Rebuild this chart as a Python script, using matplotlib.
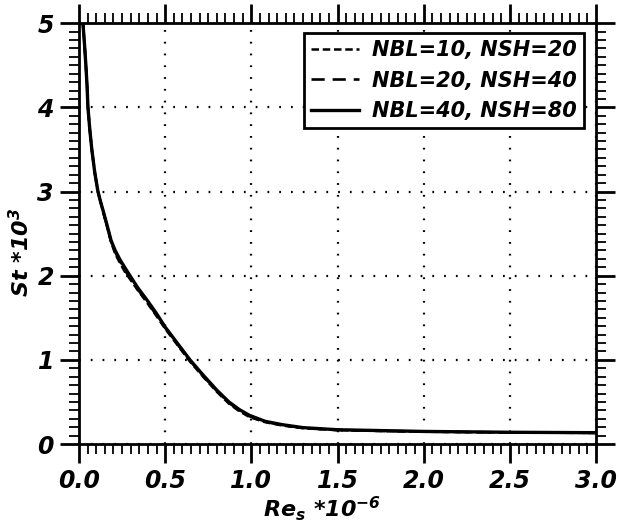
import numpy as np
import matplotlib.pyplot as plt
from matplotlib.ticker import MultipleLocator

plt.rcParams['mathtext.fontset'] = 'custom'
plt.rcParams['mathtext.rm'] = 'DejaVu Sans:bold:italic'
plt.rcParams['mathtext.it'] = 'DejaVu Sans:bold:italic'
plt.rcParams['mathtext.default'] = 'rm'

# Stanton number vs Reynolds number, three grid resolutions
re_fine = [0.023, 0.032, 0.04, 0.047, 0.052, 0.063, 0.075, 0.092, 0.11, 0.125, 0.139,
           0.163, 0.186, 0.21, 0.238, 0.265, 0.296, 0.34, 0.395, 0.45, 0.5, 0.57,
           0.644, 0.72, 0.80, 0.87, 0.93, 0.99, 1.08, 1.18, 1.3, 1.5, 1.75, 2.0,
           2.5, 3.0]
st_fine = [5.0, 4.75, 4.5, 4.25, 4.0, 3.73, 3.49, 3.22, 3.0, 2.88, 2.78,
           2.6, 2.42, 2.3, 2.19, 2.1, 2.0, 1.86, 1.71, 1.55, 1.39, 1.2,
           1.0, 0.82, 0.64, 0.5, 0.41, 0.34, 0.27, 0.23, 0.195, 0.17, 0.16, 0.15,
           0.14, 0.135]

re_mid = [0.023, 0.032, 0.04, 0.047, 0.052, 0.063, 0.075, 0.092, 0.11, 0.125, 0.139,
          0.163, 0.186, 0.21, 0.238, 0.265, 0.296, 0.34, 0.395, 0.45, 0.5, 0.57,
          0.644, 0.72, 0.80, 0.87, 0.93, 0.99, 1.08, 1.18, 1.3, 1.5, 1.75, 2.0,
          2.5, 3.0]
st_mid = [5.0, 4.75, 4.5, 4.25, 4.0, 3.73, 3.49, 3.22, 3.0, 2.88, 2.77,
          2.59, 2.41, 2.28, 2.17, 2.07, 1.97, 1.84, 1.69, 1.53, 1.38, 1.19,
          0.99, 0.81, 0.63, 0.49, 0.40, 0.33, 0.265, 0.225, 0.19, 0.167, 0.157, 0.148,
          0.138, 0.133]

re_coarse = [0.023, 0.032, 0.04, 0.047, 0.052, 0.063, 0.075, 0.092, 0.11, 0.125, 0.139,
             0.163, 0.186, 0.21, 0.238, 0.265, 0.296, 0.34, 0.395, 0.45, 0.5, 0.57,
             0.644, 0.72, 0.80, 0.87, 0.93, 0.99, 1.08, 1.18, 1.3, 1.5, 1.75, 2.0,
             2.5, 3.0]
st_coarse = [5.0, 4.75, 4.5, 4.25, 4.0, 3.73, 3.49, 3.22, 3.0, 2.88, 2.77,
             2.58, 2.40, 2.26, 2.15, 2.05, 1.96, 1.83, 1.68, 1.52, 1.37, 1.18,
             0.98, 0.80, 0.62, 0.48, 0.39, 0.32, 0.26, 0.22, 0.188, 0.165, 0.155, 0.146,
             0.137, 0.132]

labels = ["NBL=10, NSH=20", "NBL=20, NSH=40", "NBL=40, NSH=80"]

font = dict(family="DejaVu Sans", weight="bold", style="italic")

fig = plt.figure(figsize=(6.19, 5.28), dpi=100)
ax = fig.add_axes([0.1276, 0.159, 0.8354, 0.797])

ax.plot(re_coarse, st_coarse, color="black", lw=1.8, ls=(0, (3, 1.5)), label=labels[0])
ax.plot(re_mid, st_mid, color="black", lw=1.9, ls=(0, (5, 3)), label=labels[1])
ax.plot(re_fine, st_fine, color="black", lw=2.4, ls="-", label=labels[2])

ax.set_xlim(0, 3.0)
ax.set_ylim(0, 5)
ax.xaxis.set_major_locator(MultipleLocator(0.5))
ax.xaxis.set_minor_locator(MultipleLocator(0.05))
ax.yaxis.set_major_locator(MultipleLocator(1))
ax.yaxis.set_minor_locator(MultipleLocator(0.1))
ax.xaxis.set_major_formatter(plt.FuncFormatter(lambda v, p: f"{v:.1f}"))
ax.yaxis.set_major_formatter(plt.FuncFormatter(lambda v, p: f"{v:.0f}"))

ax.grid(True, which="major", color="black", ls=(0, (0.8, 4.5)), lw=1.6)
ax.tick_params(which="both", top=True, right=True, direction="out", color="black")
ax.tick_params(which="major", length=14, width=2.0, pad=4)
ax.tick_params(which="minor", length=7, width=1.3)
for sp in ax.spines.values():
    sp.set_linewidth(2.0)

for t in ax.get_xticklabels() + ax.get_yticklabels():
    t.set_fontsize(17)
    t.set_fontweight("bold")
    t.set_fontstyle("italic")

ax.set_xlabel(r"Re$_s$ *10$^{-6}$", fontsize=16, **font)
ax.set_ylabel(r"St *10$^{3}$", fontsize=16, **font)
ax.xaxis.set_label_coords(0.47, -0.118)
ax.yaxis.set_label_coords(-0.088, 0.455)

leg = ax.legend(loc="upper right", bbox_to_anchor=(0.976, 0.977), frameon=True, fancybox=False,
                edgecolor="black", handlelength=2.3, handletextpad=0.6, borderpad=0.35,
                labelspacing=0.5, borderaxespad=0.0,
                prop=dict(family="DejaVu Sans", weight="bold", style="italic", size=15))
leg.get_frame().set_linewidth(2.0)
leg.get_frame().set_alpha(1.0)

fig.savefig("out.png", dpi=100)
